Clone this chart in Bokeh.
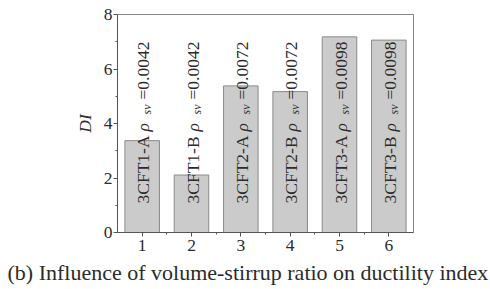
import math
from bokeh.plotting import figure
from bokeh.models import ColumnDataSource, FixedTicker, Range1d, Title
from bokeh.core.properties import value
from bokeh.embed import file_html
from bokeh.resources import INLINE

# ---- data ----
bar_x = [1, 2, 3, 4, 5, 6]
di_values = [3.37, 2.11, 5.38, 5.17, 7.18, 7.06]
specimens = ["3CFT1-A", "3CFT1-B", "3CFT2-A", "3CFT2-B", "3CFT3-A", "3CFT3-B"]
rho_sv = ["0.0042", "0.0042", "0.0072", "0.0072", "0.0098", "0.0098"]
y_ticks = [0, 2, 4, 6, 8]
y_minor = [1, 3, 5, 7]
x_minor = [1.5, 2.5, 3.5, 4.5, 5.5]
title_text = "(b) Influence of volume-stirrup ratio on ductility index"

SERIF = "Liberation Serif"
TXT = "#2b2b2b"
AX = "#555555"

src = ColumnDataSource(dict(
    x=bar_x, top=di_values, base=[0] * len(bar_x),
    name=specimens, rho=["ρ"] * len(bar_x), sub=["sv"] * len(bar_x),
    eq=["=" + r for r in rho_sv],
))

p = figure(frame_width=296, frame_height=218, output_backend="svg", toolbar_location=None,
           x_range=Range1d(0.5, 6.5), y_range=Range1d(0, 8),
           min_border_left=117, min_border_right=77, min_border_top=14, min_border_bottom=57)
p.background_fill_color = "white"
p.border_fill_color = "white"
p.outline_line_color = "#888888"
p.outline_line_width = 1
p.grid.visible = False

p.vbar(x="x", top="top", width=0.7, source=src, fill_color="#cbcbcb",
       line_color="#8a8a8a", line_width=1)

ang = math.pi / 2
common = dict(source=src, angle=ang, text_align="left", text_baseline="middle",
              text_color=TXT)
p.text(x="x", y="base", text="name", y_offset=-29, x_offset=1,
       text_font=value(SERIF), text_font_size="17.5px", **common)
p.text(x="x", y="base", text="rho", y_offset=-101, x_offset=1,
       text_font=value(SERIF), text_font_style="italic", text_font_size="17.5px", **common)
p.text(x="x", y="base", text="sub", y_offset=-118, x_offset=5,
       text_font=value(SERIF), text_font_style="italic", text_font_size="12px", **common)
p.text(x="x", y="base", text="eq", y_offset=-133, x_offset=1,
       text_font=value(SERIF), text_font_size="17.5px", **common)

# axes
p.yaxis.ticker = FixedTicker(ticks=y_ticks, minor_ticks=y_minor)
p.xaxis.ticker = FixedTicker(ticks=bar_x, minor_ticks=x_minor)
for ax in (p.xaxis, p.yaxis):
    ax.axis_line_color = AX
    ax.major_tick_line_color = AX
    ax.minor_tick_line_color = AX
    ax.major_tick_out = 4
    ax.major_tick_in = 0
    ax.minor_tick_out = 2
    ax.minor_tick_in = 0
    ax.major_label_text_font = SERIF
    ax.major_label_text_font_size = "17.5px"
    ax.major_label_text_color = TXT
    ax.major_label_standoff = 1
p.xaxis.major_label_standoff = 3
p.yaxis.axis_label = "DI"
p.yaxis.axis_label_text_font = SERIF
p.yaxis.axis_label_text_font_style = "italic"
p.yaxis.axis_label_text_font_size = "17.5px"
p.yaxis.axis_label_text_color = TXT
p.yaxis.axis_label_standoff = 6

p.add_layout(Title(text=title_text, align="left", offset=-110, standoff=8,
                   vertical_align="bottom",
                   text_font=SERIF, text_font_style="normal", text_font_size="22px",
                   text_color=TXT), "below")

open("out.html", "w").write(file_html(p, INLINE))
